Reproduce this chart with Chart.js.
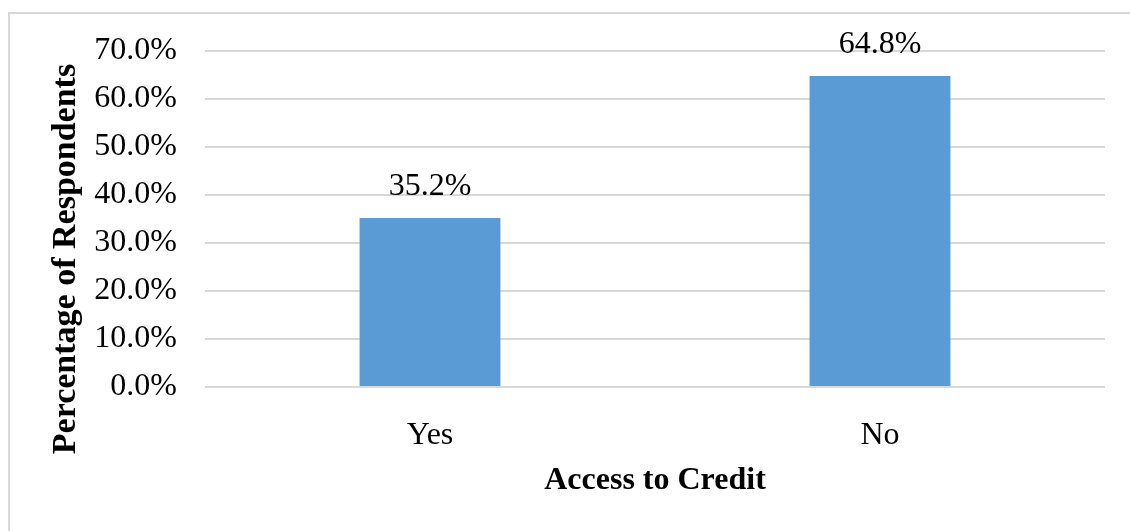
<!DOCTYPE html>
<html>
<head>
<meta charset="utf-8">
<script src="https://cdn.jsdelivr.net/npm/chart.js@4/dist/chart.umd.min.js"></script>
<style>
  html, body { margin: 0; padding: 0; background: #fff; }
  #wrap { position: relative; width: 1130px; height: 531px; }
  #frame {
    position: absolute; left: 8px; top: 12px; right: 0; bottom: 0;
    border-top: 2px solid #d9d9d9; border-left: 2px solid #d9d9d9;
    pointer-events: none;
  }
  canvas { position: absolute; left: 0; top: 0; }
</style>
</head>
<body>
<div id="wrap">
  <canvas id="chart" width="1130" height="531"></canvas>
  <div id="frame"></div>
</div>
<script>
// Share of respondents by access to credit
const categories = ['Yes', 'No'];
const percentages = [35.2, 64.8];
const yTicks = [0, 10, 20, 30, 40, 50, 60, 70];
const xAxisTitle = 'Access to Credit';
const yAxisTitle = 'Percentage of Respondents';

const SERIF = '"Liberation Serif", "Times New Roman", serif';

// Value labels above each bar and the two axis titles
const annotate = {
  id: 'annotate',
  afterDatasetsDraw(chart) {
    const ctx = chart.ctx;
    const area = chart.chartArea;
    const meta = chart.getDatasetMeta(0);
    ctx.save();
    ctx.fillStyle = '#000';
    ctx.font = '32px ' + SERIF;
    ctx.textAlign = 'center';
    ctx.textBaseline = 'alphabetic';
    meta.data.forEach((bar, i) => {
      ctx.fillText(percentages[i].toFixed(1) + '%', bar.x, bar.y - 23);
    });

    ctx.font = 'bold 32px ' + SERIF;
    ctx.textBaseline = 'middle';
    ctx.fillText(xAxisTitle, (area.left + area.right) / 2, 481);

    ctx.translate(66, 259);
    ctx.rotate(-Math.PI / 2);
    ctx.font = 'bold 34px ' + SERIF;
    ctx.fillText(yAxisTitle, 0, 0);
    ctx.restore();
  }
};

new Chart(document.getElementById('chart'), {
  type: 'bar',
  data: {
    labels: categories,
    datasets: [{
      data: percentages,
      backgroundColor: '#5b9bd5',
      borderWidth: 0,
      categoryPercentage: 1,
      barPercentage: 0.313
    }]
  },
  options: {
    responsive: false,
    animation: false,
    devicePixelRatio: 1,
    layout: { padding: { left: 0, right: 25, top: 51, bottom: 0 } },
    plugins: {
      legend: { display: false },
      tooltip: { enabled: false }
    },
    scales: {
      x: {
        grid: { display: false },
        border: { display: false },
        ticks: {
          color: '#000',
          font: { family: SERIF, size: 32 },
          padding: 21
        },
        afterFit(scale) { scale.height = 144; }
      },
      y: {
        min: 0,
        max: 70,
        afterBuildTicks(scale) { scale.ticks = yTicks.map(v => ({ value: v })); },
        grid: { color: '#d9d9d9', lineWidth: 2, drawTicks: false },
        border: { display: false },
        ticks: {
          color: '#000',
          font: { family: SERIF, size: 32 },
          padding: 28,
          callback: v => v.toFixed(1) + '%'
        },
        afterFit(scale) { scale.width = 205; }
      }
    }
  },
  plugins: [annotate]
});
</script>
</body>
</html>
